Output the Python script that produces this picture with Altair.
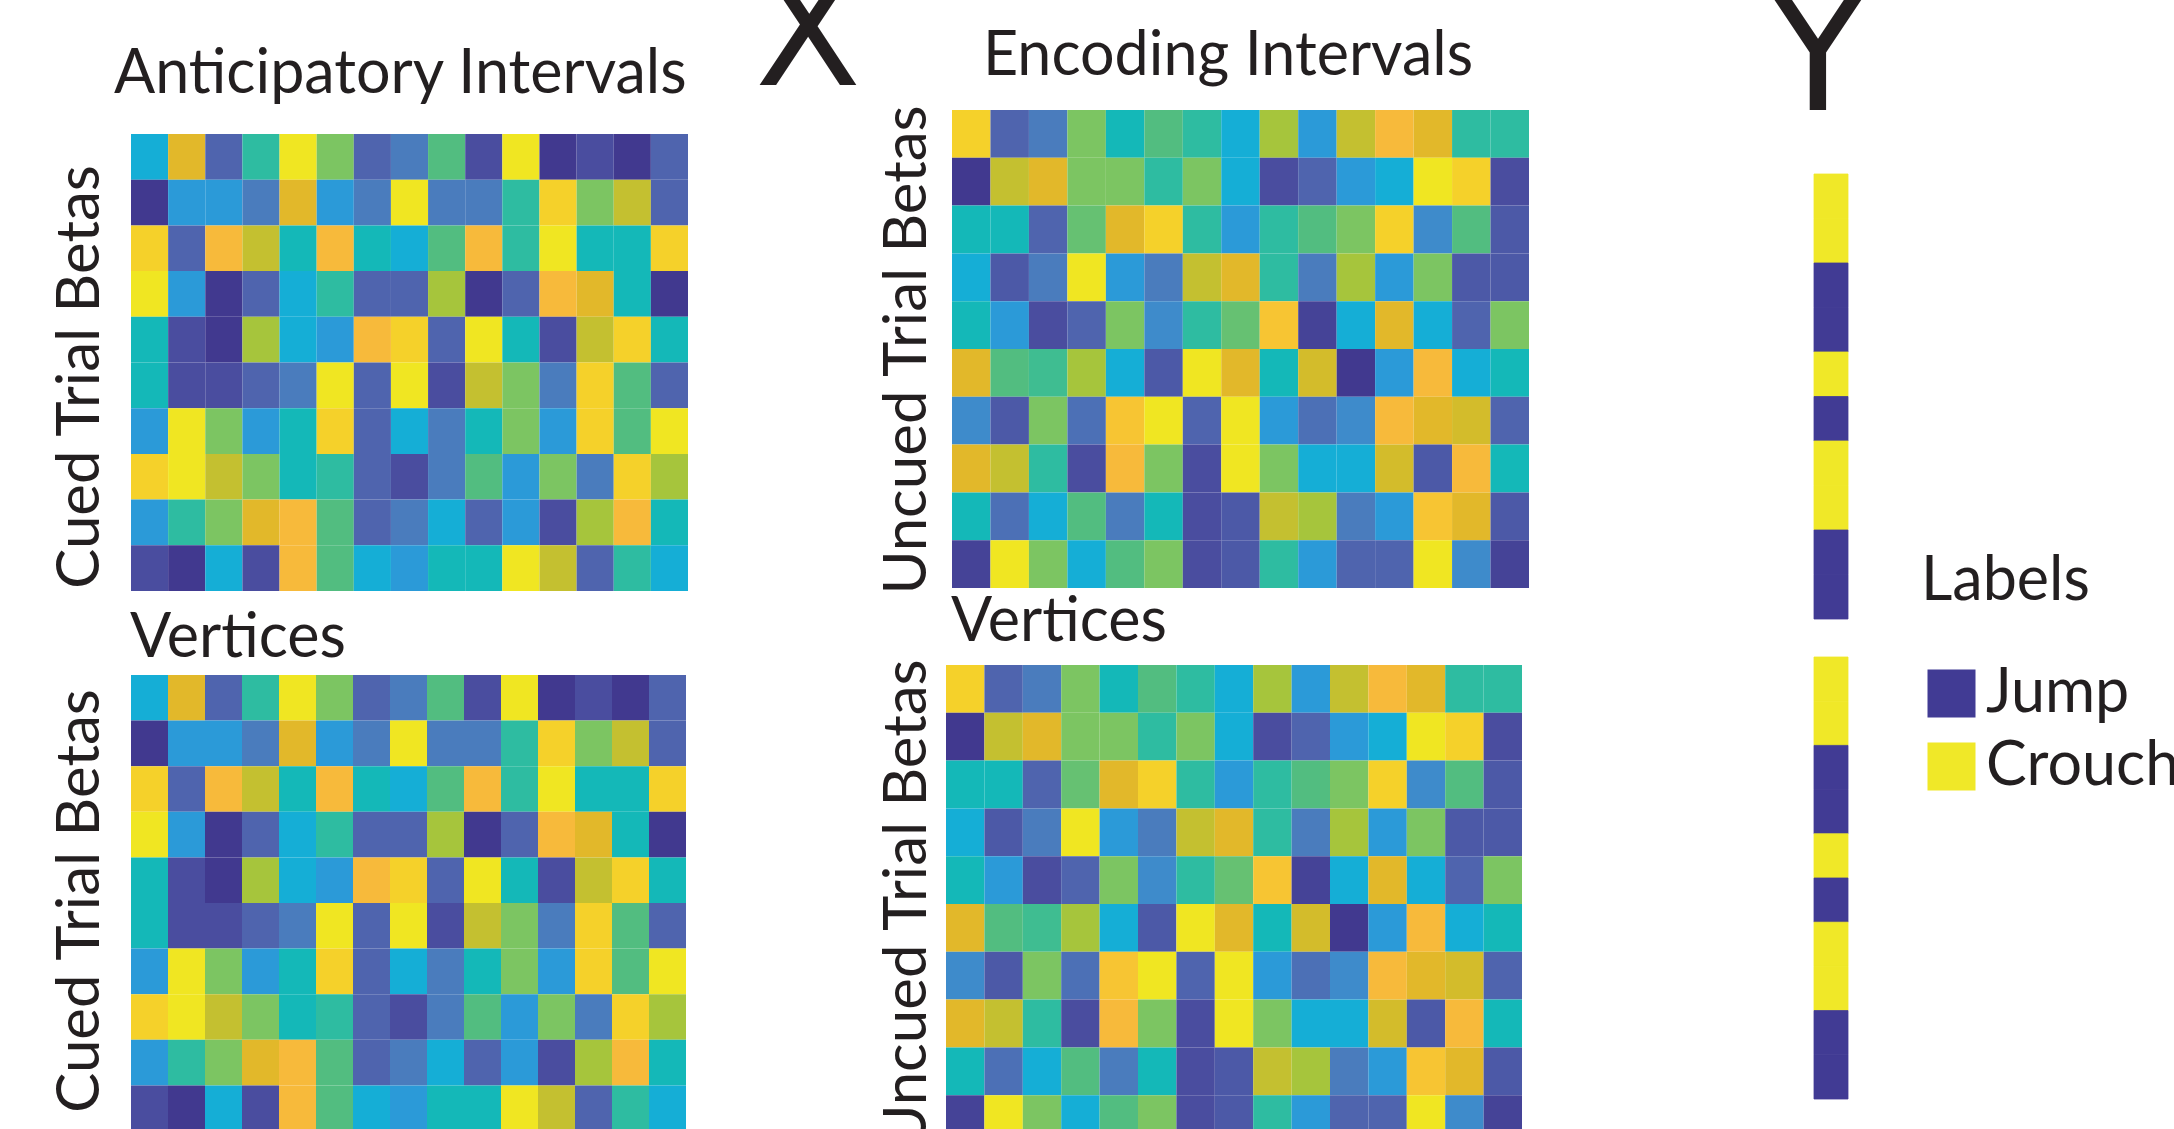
import altair as alt
import pandas as pd

# Beta levels per trial (row) and vertex (column); 0 = lowest, 15 = highest
cued_betas = [
    [5, 12, 2, 7, 15, 9, 2, 3, 8, 1, 15, 0, 1, 0, 2],
    [0, 4, 4, 3, 12, 4, 3, 15, 3, 3, 7, 14, 9, 11, 2],
    [14, 2, 13, 11, 6, 13, 6, 5, 8, 13, 7, 15, 6, 6, 14],
    [15, 4, 0, 2, 5, 7, 2, 2, 10, 0, 2, 13, 12, 6, 0],
    [6, 1, 0, 10, 5, 4, 13, 14, 2, 15, 6, 1, 11, 14, 6],
    [6, 1, 1, 2, 3, 15, 2, 15, 1, 11, 9, 3, 14, 8, 2],
    [4, 15, 9, 4, 6, 14, 2, 5, 3, 6, 9, 4, 14, 8, 15],
    [14, 15, 11, 9, 6, 7, 2, 1, 3, 8, 4, 9, 3, 14, 10],
    [4, 7, 9, 12, 13, 8, 2, 3, 5, 2, 4, 1, 10, 13, 6],
    [1, 0, 5, 1, 13, 8, 5, 4, 6, 6, 15, 11, 2, 7, 5],
]

uncued_betas = [
    [14, 2, 3, 9, 6, 8, 7, 5, 10, 4, 11, 13, 12, 7, 7],
    [0, 11, 12, 9, 9, 7, 9, 5, 1, 2, 4, 5, 15, 14, 1],
    [6, 6, 2, 8.5, 12, 14, 7, 4, 7, 8, 9, 14, 3.5, 8, 1.5],
    [5, 1.5, 3, 15, 4, 3, 11, 12, 7, 3, 10, 4, 9, 1.5, 1.5],
    [6, 4, 1, 2, 9, 3.5, 7, 8.5, 13.5, 0.5, 5, 12, 5, 2, 9],
    [12, 8, 7.5, 10, 5, 1.5, 15, 12, 6, 11.5, 0, 4, 13, 5, 6],
    [3.5, 1.5, 9, 2.5, 13.5, 15, 2, 15, 4, 2.5, 3.5, 13, 12, 11.5, 2],
    [12, 11, 7, 1, 13, 9, 1, 15, 9, 5, 5, 11.5, 1.5, 13, 6],
    [6, 2.5, 5, 8, 3, 6, 1, 1.5, 11, 10, 3, 4, 13.5, 12, 1.5],
    [0.5, 15, 9, 5, 8, 9, 1, 1.5, 7, 4, 2, 2, 15, 3.5, 0.5],
]

# Trial labels for the Y vector
trial_labels = ["Crouch", "Crouch", "Jump", "Jump", "Crouch",
                "Jump", "Crouch", "Crouch", "Jump", "Jump"]
label_names = ["Jump", "Crouch"]
label_colors = ["#413b94", "#f0e828"]

# Parula-like colour ramp for beta levels 0..15
beta_levels = list(range(16))
beta_colors = [
    "#41398f", "#4a4d9f", "#4f64ae", "#4a7cbd", "#2b9ad8", "#15aed6",
    "#14b8b8", "#2ebca1", "#52bd80", "#7cc562", "#a6c53c", "#c4c030",
    "#e2b82a", "#f7ba3b", "#f5d12a", "#f0e622",
]

INK = "#231f20"
FONT = "Lato"


def beta_table(values):
    return pd.DataFrame(
        [{"trial": r, "vertex": c, "beta": v}
         for r, row in enumerate(values) for c, v in enumerate(row)]
    )


def heatmap(values, xr, yr):
    return alt.Chart(beta_table(values)).mark_rect().encode(
        x=alt.X("vertex:O", axis=None,
                scale=alt.Scale(range=xr, paddingInner=0, paddingOuter=0)),
        y=alt.Y("trial:O", axis=None,
                scale=alt.Scale(range=yr, paddingInner=0, paddingOuter=0)),
        color=alt.Color("beta:Q", legend=None,
                        scale=alt.Scale(domain=beta_levels, range=beta_colors)),
    )


def label_strip(yr, legend):
    df = pd.DataFrame({"trial": list(range(len(trial_labels))),
                       "label": trial_labels,
                       "vector": ["Y"] * len(trial_labels)})
    label_scale = alt.Scale(domain=label_names, range=label_colors)
    return alt.Chart(df).mark_rect(strokeWidth=0.8).encode(
        x=alt.X("vector:N", axis=None,
                scale=alt.Scale(range=[1814, 1848], paddingInner=0, paddingOuter=0)),
        y=alt.Y("trial:O", axis=None,
                scale=alt.Scale(range=yr, paddingInner=0, paddingOuter=0)),
        color=alt.Color("label:N", scale=label_scale, legend=legend),
        stroke=alt.Stroke("label:N", scale=label_scale, legend=None),
    )


def text(t, x, y, size=61, angle=0, align="left", font=FONT):
    return alt.Chart(pd.DataFrame({"t": [t]})).mark_text(
        align=align, baseline="alphabetic", font=font, fontSize=size,
        angle=angle, color=INK,
    ).encode(x=alt.value(x), y=alt.value(y), text="t:N")


labels_legend = alt.Legend(
    title="Labels", orient="none", legendX=1921, legendY=552,
    titleFont=FONT, titleFontSize=61, titleFontWeight="normal", titleColor=INK,
    titlePadding=50,
    labelFont=FONT, labelFontSize=61, labelColor=INK, labelOffset=4,
    labelLimit=1000,
    symbolType="square", symbolSize=2304, symbolStrokeWidth=0, symbolOpacity=1,
    rowPadding=11,
)

layers = [
    heatmap(cued_betas, [131, 688], [134, 591]),
    heatmap(cued_betas, [131, 686], [675, 1131]),
    heatmap(uncued_betas, [952, 1529], [110, 588]),
    heatmap(uncued_betas, [946, 1522], [665, 1143]),
    label_strip([174, 619], labels_legend),
    label_strip([657, 1099], None),
    text("Anticipatory Intervals", 114, 93),
    text("Encoding Intervals", 983, 75),
    text("Vertices", 130, 657),
    text("Vertices", 951, 641),
    text("Cued Trial Betas", 99, 377, size=60, angle=270, align="center"),
    text("Cued Trial Betas", 99, 901, size=60, angle=270, align="center"),
    text("Uncued Trial Betas", 926, 350, size=60, angle=270, align="center"),
    text("Uncued Trial Betas", 926, 904, size=60, angle=270, align="center"),
    text("X", 808, 85, size=155, align="center", font="DejaVu Sans"),
    text("Y", 1818, 110, size=165, align="center", font="DejaVu Sans"),
]

chart = (
    alt.layer(*layers)
    .resolve_scale(x="independent", y="independent",
                   color="independent", stroke="independent")
    .properties(width=2174, height=1129, padding=0,
                autosize=alt.AutoSizeParams(type="none"), background="white")
    .configure_view(stroke=None)
)

chart.save("out.html", embed_options={"renderer": "svg", "actions": False})
